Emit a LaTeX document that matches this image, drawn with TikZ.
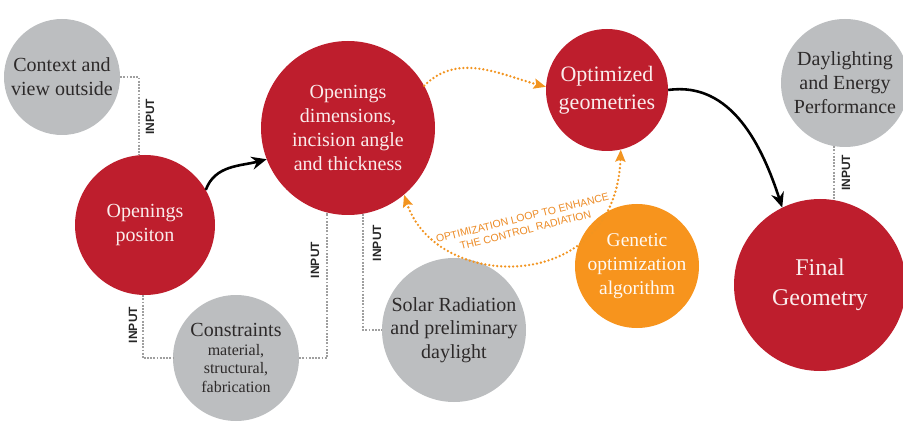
\documentclass[tikz,border=0pt]{standalone}
\usepackage{fontspec}
\setmainfont{Liberation Serif}
\setsansfont{Liberation Sans}
\usetikzlibrary{shapes,arrows.meta}
\definecolor{crimson}{RGB}{190,30,45}
\definecolor{softgray}{RGB}{188,190,192}
\definecolor{geneorange}{RGB}{247,148,29}
\definecolor{loopor}{RGB}{242,148,32}
\definecolor{looptext}{RGB}{236,138,36}
\definecolor{redtext}{RGB}{250,236,236}
\definecolor{graytext}{RGB}{45,42,42}
\newcommand{\smallline}{\fontsize{16}{18.5}\selectfont}
\tikzstyle{redcirc} = [circle, fill=crimson, text=redtext, align=center, inner sep=0pt, font=\fontsize{20}{24}\selectfont]
\tikzstyle{graycirc} = [circle, fill=softgray, text=graytext, align=center, inner sep=0pt, font=\fontsize{20}{24}\selectfont]
\tikzstyle{genecirc} = [circle, fill=geneorange, text=white!95!orange, align=center, inner sep=0pt, font=\fontsize{19.5}{24}\selectfont]
\tikzstyle{inputlbl} = [rotate=90, inner sep=0pt, text=black!85, font=\sffamily\bfseries\fontsize{12}{14}\selectfont]
\tikzstyle{inputline} = [draw=gray!75, line width=2pt, dash pattern=on 1.8pt off 1.4pt]
\tikzstyle{mainarrow} = [draw=black, line width=2.6pt, -{Stealth[length=15pt,width=13pt,inset=5pt]}]
\tikzstyle{looparrow} = [draw=loopor, line width=2.6pt, line cap=round, dash pattern=on 0pt off 4pt]
\tikzstyle{looplbl} = [rotate=14, inner sep=0pt, align=center, text=looptext, font=\sffamily\fontsize{10.5}{12.5}\selectfont]

\begin{document}
\begin{tikzpicture}[x=1pt,y=1pt]
\useasboundingbox (0,0) rectangle (903,421);
% circles
\node[graycirc, minimum size=116pt] (context) at (62,344) {Context and\\view outside};
\node[redcirc, minimum size=140pt] (position) at (145,196) {Openings\\positon};
\node[redcirc, minimum size=174pt] (dims) at (348,293) {Openings\\dimensions,\\incision angle\\and thickness};
\node[redcirc, minimum size=122pt, font=\fontsize{22}{28}\selectfont] (optgeo) at (607,331) {Optimized\\geometries};
\node[graycirc, minimum size=128pt] (dayperf) at (845,338) {Daylighting\\and Energy\\Performance};
\node[redcirc, minimum size=172pt, font=\fontsize{24}{30}\selectfont] (final) at (820,136) {Final\\Geometry};
\node[genecirc, minimum size=124pt] (genetic) at (637,155) {Genetic\\optimization\\algorithm};
\node[graycirc, minimum size=144pt, font=\fontsize{20}{23.5}\selectfont] (solar) at (454,91) {Solar Radiation\\and preliminary\\daylight};
\node[graycirc, minimum size=126pt, font=\smallline] (constr) at (236,63) {{\fontsize{20}{24}\selectfont Constraints}\\material,\\structural,\\fabrication};

% inputs
\draw[inputline] (context.east) -| (position.95);
\draw[inputline] (position.-92) |- (constr.west);
\draw[inputline] (constr.east) -| (dims.-104);
\draw[inputline] (dims.-80) |- (solar.west);
\draw[inputline] (dayperf.-100) -- (dayperf.-100 |- final.north);
\node[inputlbl] (inputa) at (150,304) {INPUT};
\node[inputlbl] (inputb) at (133,96) {INPUT};
\node[inputlbl] (inputc) at (315,161) {INPUT};
\node[inputlbl] (inputd) at (377,178) {INPUT};
\node[inputlbl] (inpute) at (846,248) {INPUT};

% main flow
\draw[mainarrow] (position.30) to[out=70,in=195] (dims.201);
\draw[mainarrow] (optgeo.east) to[out=8,in=108] (final.116);

% optimization loop
\draw[looparrow, -{Stealth[length=12pt,width=10pt,inset=2pt]}] (dims.29) to[out=45,in=165] (optgeo.177);
\draw[looparrow, {Stealth[length=12pt,width=10pt,inset=2pt]}-{Stealth[length=12pt,width=10pt,inset=2pt]}] (dims.-50) .. controls (437,128) and (616,126) .. (optgeo.-77);
\node[looplbl] (looptxt) at (524,197) {OPTIMIZATION LOOP TO ENHANCE\\THE CONTROL RADIATION};
\end{tikzpicture}
\end{document}
